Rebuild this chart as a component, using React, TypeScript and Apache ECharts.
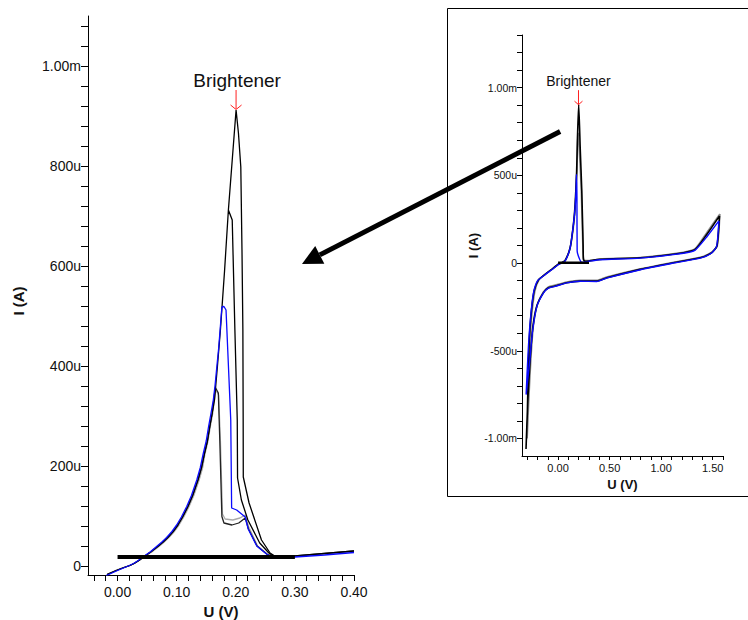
import React, { useEffect, useRef } from "react";
import * as echarts from "echarts";

const FONT = "'Liberation Sans', Arial, Helvetica, sans-serif";

// ---------- axis ticks / labels ----------
const MAIN_X_TICKS = [-0.04, -0.02, 0, 0.02, 0.04, 0.06, 0.08, 0.1, 0.12, 0.14, 0.16, 0.18, 0.2, 0.22, 0.24, 0.26, 0.28, 0.3, 0.32, 0.34, 0.36, 0.38, 0.4];
const MAIN_X_LABELS = [0, 0.1, 0.2, 0.3, 0.4];
const MAIN_Y_TICKS = [0, 40, 80, 120, 160, 200, 240, 280, 320, 360, 400, 440, 480, 520, 560, 600, 640, 680, 720, 760, 800, 840, 880, 920, 960, 1000, 1040, 1080];
const MAIN_Y_LABELS = [0, 200, 400, 600, 800, 1000];
const INSET_X_TICKS = [-0.3, -0.2, -0.1, 0, 0.1, 0.2, 0.3, 0.4, 0.5, 0.6, 0.7, 0.8, 0.9, 1.0, 1.1, 1.2, 1.3, 1.4, 1.5, 1.6];
const INSET_X_LABELS = [0, 0.5, 1.0, 1.5];
const INSET_Y_TICKS = [-1000, -900, -800, -700, -600, -500, -400, -300, -200, -100, 0, 100, 200, 300, 400, 500, 600, 700, 800, 900, 1000, 1100, 1200, 1300];
const INSET_Y_LABELS = [-1000, -500, 0, 500, 1000];

// ---------- data: [U (V), I (µA)] ----------
// rising (anodic) branch shared by the sweeps
const RISE_BLUE = [[-0.019, -19], [0.0, -9], [0.01, -4], [0.02, 1], [0.027, 5], [0.035, 11], [0.044, 19], [0.055, 28], [0.066, 39], [0.075, 48], [0.083, 57], [0.092, 69], [0.1, 82], [0.108, 98], [0.117, 119], [0.125, 141], [0.134, 172], [0.14, 197], [0.145, 225], [0.15, 250], [0.154, 279], [0.158, 305], [0.162, 332]];
const RISE_BLACK = [[-0.018, -17], [0.0, -8], [0.011, -3], [0.021, 1], [0.028, 5], [0.036, 11], [0.045, 19], [0.056, 28], [0.068, 39], [0.077, 48], [0.085, 57], [0.094, 69], [0.102, 82], [0.11, 98], [0.119, 119], [0.127, 141], [0.136, 172], [0.142, 197], [0.147, 225], [0.152, 250], [0.156, 279], [0.16, 305]];
const RISE_GRAY = [[-0.017, -16], [0.0, -7], [0.012, -2], [0.022, 2], [0.029, 6], [0.038, 12], [0.046, 19], [0.058, 28], [0.07, 39], [0.079, 48], [0.087, 57], [0.096, 69], [0.104, 82], [0.112, 98], [0.121, 119], [0.129, 141], [0.138, 172], [0.144, 197], [0.148, 225], [0.153, 250], [0.157, 279], [0.161, 305]];

const PEAK_GRAY = [[0.164, 335], [0.1665, 352], [0.171, 342], [0.174, 250], [0.1775, 104], [0.182, 94], [0.195, 92], [0.207, 96], [0.216, 102], [0.222, 78], [0.237, 40], [0.255, 22], [0.266, 19]];
const PEAK_DARK = [[0.1635, 340], [0.1655, 357], [0.1705, 346], [0.173, 250], [0.1765, 99], [0.18, 86], [0.1935, 82], [0.205, 86], [0.216, 96], [0.2215, 74], [0.236, 40], [0.2545, 22], [0.266, 19], [0.3, 20], [0.35, 25], [0.4, 30]];
const PEAK_715 = [[0.164, 332], [0.169, 400], [0.174, 472], [0.181, 590], [0.1875, 712], [0.194, 692], [0.1985, 472], [0.2025, 292], [0.203, 176], [0.2095, 132], [0.2205, 92], [0.2405, 46], [0.256, 26], [0.266, 18], [0.3, 20], [0.35, 25], [0.4, 30]];
const PEAK_912 = [[0.1875, 712], [0.194, 812], [0.2005, 912], [0.2045, 866], [0.2085, 798], [0.2105, 632], [0.212, 472], [0.2125, 292], [0.2127, 178], [0.2225, 126], [0.2435, 52], [0.258, 26], [0.2685, 18], [0.3, 20]];
const PEAK_BLUE = [[0.165, 362], [0.168, 399], [0.171, 435], [0.1735, 472], [0.1765, 518], [0.18, 519], [0.1835, 512], [0.1915, 292], [0.193, 116], [0.2015, 112], [0.216, 98], [0.221, 74], [0.2355, 40], [0.252, 24], [0.261, 18], [0.3, 18], [0.35, 22], [0.4, 27]];
const MAIN_BASELINE = [[0, 18], [0.3, 18]];

const INSET_BLACK = [[1.566, 269], [1.541, 97], [1.492, 59], [1.379, 30], [1.119, 2], [0.796, -36], [0.473, -84], [0.375, -103], [0.214, -103], [0.084, -112], [-0.029, -131], [-0.094, -141], [-0.143, -170], [-0.207, -246], [-0.246, -370], [-0.272, -560], [-0.294, -789], [-0.311, -1060], [-0.298, -846], [-0.284, -503], [-0.265, -313], [-0.233, -160], [-0.191, -97], [-0.126, -65], [-0.061, -36], [0.003, -7], [0.035, 2], [0.068, 14], [0.117, 87], [0.149, 221], [0.165, 330], [0.18, 520], [0.188, 712], [0.2, 905], [0.215, 650], [0.23, 411], [0.243, 100], [0.246, 20], [0.26, 10], [0.3, 12], [0.406, 21], [0.796, 30], [1.0, 42], [1.217, 59], [1.33, 78], [1.444, 164], [1.566, 269]];
const INSET_GRAY = [[1.57, 280], [1.545, 100], [1.49, 62], [1.38, 33], [1.12, 5], [0.8, -33], [0.47, -80], [0.375, -99], [0.214, -99], [0.084, -108], [-0.029, -126], [-0.094, -136], [-0.143, -165], [-0.2, -235], [-0.24, -360], [-0.265, -560], [-0.285, -790], [-0.3, -1000], [-0.292, -846], [-0.278, -503], [-0.258, -313], [-0.225, -160], [-0.185, -95], [-0.12, -62], [-0.055, -33], [0.006, -4], [0.04, 4], [0.07, 16], [0.119, 89], [0.152, 223], [0.168, 330], [0.183, 520], [0.19, 700], [0.198, 740], [0.21, 600], [0.225, 420], [0.24, 100], [0.25, 18], [0.3, 14], [0.406, 23], [0.796, 32], [1.217, 62], [1.33, 82], [1.444, 175], [1.57, 280]];
const INSET_BLUE = [[1.56, 240], [1.538, 95], [1.49, 57], [1.38, 28], [1.12, 0], [0.8, -38], [0.47, -86], [0.375, -105], [0.214, -104], [0.084, -113], [-0.029, -133], [-0.094, -143], [-0.143, -172], [-0.207, -250], [-0.25, -400], [-0.275, -560], [-0.31, -750], [-0.3, -620], [-0.288, -480], [-0.27, -330], [-0.24, -175], [-0.2, -102], [-0.13, -68], [-0.065, -40], [0.0, -10], [0.035, 0], [0.068, 11], [0.117, 87], [0.149, 221], [0.165, 316], [0.175, 430], [0.178, 505], [0.183, 380], [0.185, 69], [0.23, 4], [0.3, 10], [0.406, 19], [0.796, 28], [1.217, 56], [1.33, 74], [1.444, 150], [1.56, 240]];
const INSET_BASELINE = [[0, 2], [0.3, 2]];

// annotation anchors (data coordinates)
const MAIN_PEAK = [0.2005, 912];
const INSET_PEAK = [0.198, 900];
const ARROW_FROM = [0.02, 750]; // inset coords
const ARROW_TO = [0.312, 604]; // main coords
const LABEL = "Brightener";

const fmtI = (v: number) => {
  if (v === 0) return "0";
  if (Math.abs(v) >= 1000) return (v / 1000).toFixed(2) + "m";
  return String(v) + "u";
};
const fmtU = (v: number) => v.toFixed(2);

function line(data: number[][], color: string, width: number, idx: number, z: number, smooth: number | boolean = false) {
  return {
    type: "line",
    data,
    xAxisIndex: idx,
    yAxisIndex: idx,
    symbol: "none",
    showSymbol: false,
    silent: true,
    smooth,
    z,
    lineStyle: { color, width },
  };
}

export default function App() {
  const ref = useRef<HTMLDivElement>(null);
  useEffect(() => {
    if (!ref.current) return;
    const chart = echarts.init(ref.current, null, { renderer: "svg" });
    const axisLine = { show: true, onZero: false, lineStyle: { color: "#000", width: 1 } };
    const option: any = {
      animation: false,
      backgroundColor: "#fff",
      grid: [
        { left: 88, top: 16, width: 266, height: 559, containLabel: false, outerBoundsMode: "none" },
        { left: 522, top: 35, width: 201, height: 421, containLabel: false, outerBoundsMode: "none" },
      ],
      xAxis: [
        {
          type: "value", gridIndex: 0, min: -0.05, max: 0.4,
          axisLine,
          axisTick: { show: true, length: 6, customValues: MAIN_X_TICKS, lineStyle: { color: "#000" } },
          axisLabel: { customValues: MAIN_X_LABELS, formatter: fmtU, margin: 10, fontSize: 14, color: "#111", fontFamily: FONT },
          splitLine: { show: false },
          name: "U (V)", nameLocation: "middle", nameGap: 28,
          nameTextStyle: { fontWeight: "bold", fontSize: 15, lineHeight: 15, color: "#111", fontFamily: FONT },
        },
        {
          type: "value", gridIndex: 1, min: -0.35, max: 1.6,
          axisLine,
          axisTick: { show: true, length: 4, customValues: INSET_X_TICKS, lineStyle: { color: "#000" } },
          axisLabel: { customValues: INSET_X_LABELS, formatter: fmtU, margin: 6, fontSize: 11, color: "#111", fontFamily: FONT },
          splitLine: { show: false },
          name: "U (V)", nameLocation: "middle", nameGap: 19,
          nameTextStyle: { fontWeight: "bold", fontSize: 13, color: "#111", fontFamily: FONT },
        },
      ],
      yAxis: [
        {
          type: "value", gridIndex: 0, min: -18, max: 1100,
          axisLine,
          axisTick: { show: true, length: 7, customValues: MAIN_Y_TICKS, lineStyle: { color: "#000" } },
          axisLabel: { customValues: MAIN_Y_LABELS, formatter: fmtI, margin: 7, fontSize: 14, color: "#111", fontFamily: FONT, verticalAlign: "middle", padding: [0, 0, 8, 0] },
          splitLine: { show: false },
          name: "I (A)", nameLocation: "middle", nameGap: 62,
          nameTextStyle: { fontWeight: "bold", fontSize: 15, color: "#111", fontFamily: FONT, padding: [0, 11, 0, 0] },
        },
        {
          type: "value", gridIndex: 1, min: -1100, max: 1300,
          axisLine,
          axisTick: { show: true, length: 5, customValues: INSET_Y_TICKS, lineStyle: { color: "#000" } },
          axisLabel: { customValues: INSET_Y_LABELS, formatter: fmtI, margin: 5, fontSize: 10.5, color: "#111", fontFamily: FONT, verticalAlign: "middle", padding: [0, 0, 6, 0] },
          splitLine: { show: false },
          name: "I (A)", nameLocation: "middle", nameGap: 42,
          nameTextStyle: { fontWeight: "bold", fontSize: 13, color: "#111", fontFamily: FONT },
        },
      ],
      series: [
        line([...RISE_GRAY, ...PEAK_GRAY], "#aaaaaa", 1.3, 0, 1),
        line([...RISE_BLACK, ...PEAK_DARK], "#222222", 1.3, 0, 2),
        line([...RISE_BLACK, ...PEAK_715], "#000000", 1.3, 0, 3),
        line(PEAK_912, "#000000", 1.3, 0, 3),
        line([...RISE_BLUE, ...PEAK_BLUE], "#0a0aff", 1.3, 0, 4),
        line(MAIN_BASELINE, "#000000", 4, 0, 6),
        line(INSET_GRAY, "#8a8a8a", 1.6, 1, 1, 0.2),
        line(INSET_BLACK, "#000000", 1.6, 1, 2, 0.2),
        line(INSET_BLUE, "#0a0aff", 1.4, 1, 3, 0.2),
        line(INSET_BASELINE, "#000000", 2.5, 1, 6),
      ],
    };
    chart.setOption(option);

    const pm = chart.convertToPixel({ xAxisIndex: 0, yAxisIndex: 0 }, MAIN_PEAK) as number[];
    const pi = chart.convertToPixel({ xAxisIndex: 1, yAxisIndex: 1 }, INSET_PEAK) as number[];
    const a0 = chart.convertToPixel({ xAxisIndex: 1, yAxisIndex: 1 }, ARROW_FROM) as number[];
    const a1 = chart.convertToPixel({ xAxisIndex: 0, yAxisIndex: 0 }, ARROW_TO) as number[];
    const dx = a1[0] - a0[0];
    const dy = a1[1] - a0[1];
    const len = Math.sqrt(dx * dx + dy * dy);
    const ux = dx / len, uy = dy / len;
    const headLen = 20, headHalf = 10;
    const bx = a1[0] - ux * headLen, by = a1[1] - uy * headLen;
    const red = "#ff2020";

    chart.setOption({
      graphic: [
        { type: "rect", z: 50, silent: true, shape: { x: 447.5, y: 8.5, width: 330, height: 488 }, style: { fill: "none", stroke: "#000", lineWidth: 1 } },
        // main annotation
        { type: "text", z: 60, silent: true, x: pm[0] + 1, y: pm[1] - 30, style: { text: LABEL, font: `19px ${FONT}`, fill: "#111", align: "center", verticalAlign: "middle" } },
        { type: "line", z: 60, silent: true, shape: { x1: pm[0], y1: pm[1] - 20, x2: pm[0], y2: pm[1] - 1 }, style: { stroke: red, lineWidth: 1 } },
        { type: "polyline", z: 60, silent: true, shape: { points: [[pm[0] - 5.5, pm[1] - 5], [pm[0], pm[1] - 0.5], [pm[0] + 5.5, pm[1] - 5]] }, style: { stroke: red, lineWidth: 1, fill: "none" } },
        // inset annotation
        { type: "text", z: 60, silent: true, x: pi[0], y: pi[1] - 24, style: { text: LABEL, font: `14px ${FONT}`, fill: "#111", align: "center", verticalAlign: "middle" } },
        { type: "line", z: 60, silent: true, shape: { x1: pi[0], y1: pi[1] - 15, x2: pi[0], y2: pi[1] - 1 }, style: { stroke: red, lineWidth: 1 } },
        { type: "polyline", z: 60, silent: true, shape: { points: [[pi[0] - 4, pi[1] - 4], [pi[0], pi[1] - 0.5], [pi[0] + 4, pi[1] - 4]] }, style: { stroke: red, lineWidth: 1, fill: "none" } },
        // big arrow
        { type: "line", z: 70, silent: true, shape: { x1: a0[0], y1: a0[1], x2: bx, y2: by }, style: { stroke: "#000", lineWidth: 5 } },
        {
          type: "polygon", z: 70, silent: true,
          shape: { points: [[a1[0], a1[1]], [bx - uy * headHalf, by + ux * headHalf], [bx + uy * headHalf, by - ux * headHalf]] },
          style: { fill: "#000" },
        },
      ],
    });
    return () => chart.dispose();
  }, []);
  return <div ref={ref} style={{ position: "fixed", left: 0, top: 0, width: 748, height: 620, background: "#fff" }} />;
}
